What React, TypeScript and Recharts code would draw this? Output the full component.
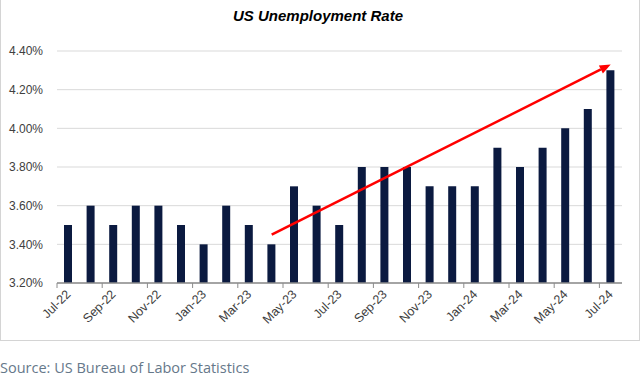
import React from 'react';
import { BarChart, Bar, XAxis, YAxis, CartesianGrid, ReferenceLine } from 'recharts';

const months = [
  'Jul-22', 'Aug-22', 'Sep-22', 'Oct-22', 'Nov-22', 'Dec-22', 'Jan-23', 'Feb-23', 'Mar-23',
  'Apr-23', 'May-23', 'Jun-23', 'Jul-23', 'Aug-23', 'Sep-23', 'Oct-23', 'Nov-23', 'Dec-23',
  'Jan-24', 'Feb-24', 'Mar-24', 'Apr-24', 'May-24', 'Jun-24', 'Jul-24',
];
const rates = [
  3.5, 3.6, 3.5, 3.6, 3.6, 3.5, 3.4, 3.6, 3.5,
  3.4, 3.7, 3.6, 3.5, 3.8, 3.8, 3.8, 3.7, 3.7,
  3.7, 3.9, 3.8, 3.9, 4.0, 4.1, 4.3,
];
const yTicks = [3.2, 3.4, 3.6, 3.8, 4.0, 4.2, 4.4];
const trendStart = { x: 'Apr-23', y: 3.45 };
const trendEnd = { x: 'Jul-24', y: 4.33 };

const data = months.map((m, i) => ({ month: m, rate: rates[i] }));

// Excel-style tick: mark on the category boundary, label rotated under the bar
const MonthTick = ({ x, y, payload }: any) => {
  const half = payload && payload.offset ? payload.offset : 11.3;
  return (
    <g>
      <line x1={x - half} y1={y} x2={x - half} y2={y + 5} stroke="#8c8c8c" strokeWidth={1} />
      <text
        x={x + 3}
        y={y + 12}
        textAnchor="end"
        fill="#404040"
        fontSize={12.5}
        fontFamily="'Liberation Sans', Arial, sans-serif"
        transform={`rotate(-45, ${x + 3}, ${y + 12})`}
      >
        {payload.value}
      </text>
    </g>
  );
};

const TrendArrow = (props: any) => {
  const { x1, y1, x2, y2 } = props;
  const dx = x2 - x1;
  const dy = y2 - y1;
  const len = Math.sqrt(dx * dx + dy * dy);
  const ux = dx / len;
  const uy = dy / len;
  const head = 11;
  const w = 4.5;
  const bx = x2 - ux * head;
  const by = y2 - uy * head;
  return (
    <g>
      <line x1={x1} y1={y1} x2={bx} y2={by} stroke="#ff0000" strokeWidth={2.5} />
      <polygon
        points={`${x2},${y2} ${bx - uy * w},${by + ux * w} ${bx + uy * w},${by - ux * w}`}
        fill="#ff0000"
      />
    </g>
  );
};

export default function App() {
  return (
    <div style={{ position: 'absolute', left: 0, top: 0, width: 640, height: 378, background: '#fff' }}>
      <div
        style={{
          position: 'absolute',
          left: 0,
          top: -1,
          width: 638,
          height: 340,
          border: '1px solid #d4d4d4',
        }}
      />
      <div
        style={{
          position: 'absolute',
          left: 0,
          top: 7,
          width: 636,
          textAlign: 'center',
          fontFamily: "'Liberation Sans', Arial, sans-serif",
          fontWeight: 'bold',
          fontStyle: 'italic',
          fontSize: 15,
          color: '#000',
        }}
      >
        US Unemployment Rate
      </div>
      <div style={{ position: 'absolute', left: 0, top: 0 }}>
        <BarChart
          width={640}
          height={340}
          data={data}
          margin={{ top: 51, right: 18, left: 0, bottom: 0 }}
          barCategoryGap={0}
        >
          <CartesianGrid horizontal vertical={false} stroke="#d9d9d9" />
          <XAxis
            dataKey="month"
            interval={1}
            height={57}
            tickSize={0}
            tickMargin={0}
            tickLine={false}
            axisLine={{ stroke: '#8c8c8c', strokeWidth: 1.5 }}
            tick={<MonthTick />}
          />
          <YAxis
            domain={[3.2, 4.4]}
            ticks={yTicks}
            width={57}
            axisLine={false}
            tickLine={false}
            tickSize={0}
            tickMargin={14}
            tickFormatter={(v: number) => v.toFixed(2) + '%'}
            tick={{ fill: '#404040', fontSize: 12, fontFamily: "'Liberation Sans', Arial, sans-serif" }}
          />
          <Bar dataKey="rate" fill="#0b1a40" barSize={8} isAnimationActive={false} />
          <ReferenceLine segment={[trendStart, trendEnd]} shape={<TrendArrow />} />
        </BarChart>
      </div>
      <div
        style={{
          position: 'absolute',
          left: 0,
          top: 358,
          fontFamily: "'Open Sans', 'Noto Sans', sans-serif",
          fontSize: 14.5,
          color: '#66788a',
        }}
      >
        Source: US Bureau of Labor Statistics
      </div>
    </div>
  );
}
